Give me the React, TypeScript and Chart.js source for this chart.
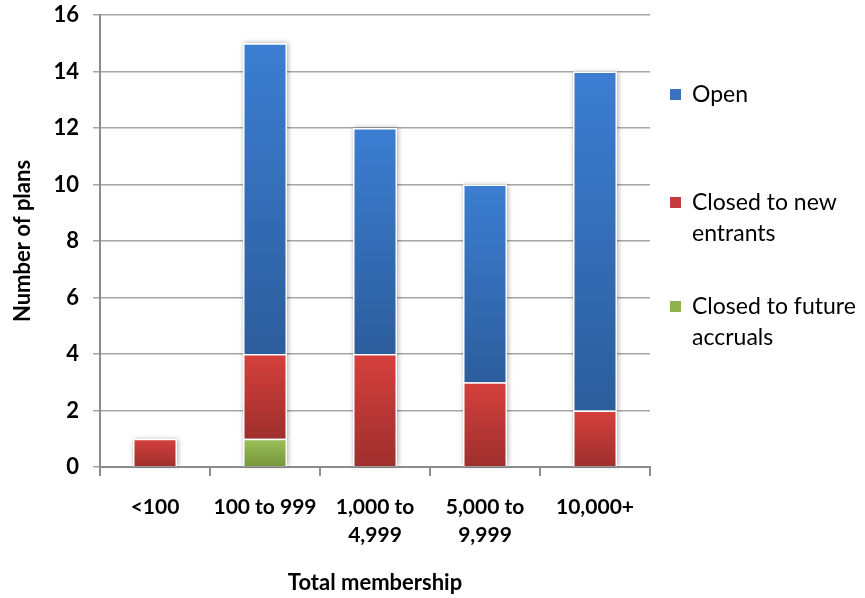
import React, { useEffect, useRef } from "react";
import { Chart, registerables } from "chart.js";

Chart.register(...registerables);

// ---- Data ----
const categories: string[][] = [
  ["<100"],
  ["100 to 999"],
  ["1,000 to", "4,999"],
  ["5,000 to", "9,999"],
  ["10,000+"],
];
const closedToFutureAccruals = [0, 1, 0, 0, 0];
const closedToNewEntrants = [1, 3, 4, 3, 2];
const openPlans = [0, 11, 8, 7, 12];
const yMin = 0;
const yMax = 16;
const yStep = 2;

const seriesNames = ["Closed to future accruals", "Closed to new entrants", "Open"];

const FONT = "Lato, 'Liberation Sans', sans-serif";

function gradientFill(top: string, bottom: string) {
  return (ctx: any) => {
    const chart = ctx.chart;
    const y = chart.scales && chart.scales.y;
    if (!chart.chartArea || !y || ctx.type !== "data") return top;
    const i = ctx.dataIndex;
    const d = ctx.datasetIndex;
    let start = 0;
    for (let k = 0; k < d; k++) start += Number(chart.data.datasets[k].data[i]) || 0;
    const v = Number(chart.data.datasets[d].data[i]) || 0;
    const y0 = y.getPixelForValue(start + v);
    const y1 = y.getPixelForValue(start);
    if (!isFinite(y0) || !isFinite(y1) || y1 - y0 < 1) return top;
    const g = chart.ctx.createLinearGradient(0, y0, 0, y1);
    g.addColorStop(0, top);
    g.addColorStop(1, bottom);
    return g;
  };
}

const shadowPlugin = {
  id: "barShadow",
  beforeDatasetsDraw(chart: any) {
    const ctx = chart.ctx;
    ctx.save();
    ctx.shadowColor = "rgba(0,0,0,0.35)";
    ctx.shadowBlur = 5;
    ctx.shadowOffsetX = 1;
    ctx.shadowOffsetY = 0;
    ctx.fillStyle = "#ffffff";
    chart.data.datasets.forEach((_: any, di: number) => {
      const meta = chart.getDatasetMeta(di);
      meta.data.forEach((el: any) => {
        const h = Math.abs(el.base - el.y);
        if (h < 1) return;
        const top = Math.min(el.y, el.base);
        ctx.fillRect(el.x - el.width / 2, top, el.width, h);
      });
    });
    ctx.restore();
  },
};

const legendItems = [
  { lines: ["Open"], color: "#3A72C0", dy: 80 },
  { lines: ["Closed to new", "entrants"], color: "#C33B3A", dy: 188 },
  { lines: ["Closed to future", "accruals"], color: "#8FB24C", dy: 292 },
];

const legendPlugin = {
  id: "sideLegend",
  afterDraw(chart: any) {
    const { ctx, chartArea } = chart;
    ctx.save();
    ctx.font = `23px ${FONT}`;
    ctx.textBaseline = "middle";
    ctx.textAlign = "left";
    ctx.fillStyle = "#000";
    legendItems.forEach((it) => {
      const y = chartArea.top + it.dy;
      ctx.fillStyle = it.color;
      ctx.fillRect(chartArea.right + 20, y - 6, 11, 11);
      ctx.fillStyle = "#000";
      it.lines.forEach((ln, li) => {
        ctx.fillText(ln, chartArea.right + 42, y + li * 31);
      });
    });
    ctx.restore();
  },
};

export default function App() {
  const ref = useRef<HTMLCanvasElement | null>(null);

  useEffect(() => {
    if (!ref.current) return;
    const chart = new Chart(ref.current, {
      type: "bar",
      data: {
        labels: categories as any,
        datasets: [
          {
            label: seriesNames[0],
            data: closedToFutureAccruals,
            backgroundColor: gradientFill("#9DC05A", "#76963A") as any,
            borderColor: "#ffffff",
            borderWidth: 1.5,
          },
          {
            label: seriesNames[1],
            data: closedToNewEntrants,
            backgroundColor: gradientFill("#D5403D", "#9E2F2D") as any,
            borderColor: "#ffffff",
            borderWidth: 1.5,
          },
          {
            label: seriesNames[2],
            data: openPlans,
            backgroundColor: gradientFill("#3C7ED2", "#2C5D9C") as any,
            borderColor: "#ffffff",
            borderWidth: 1.5,
          },
        ],
      },
      options: {
        animation: false,
        responsive: true,
        maintainAspectRatio: false,
        layout: { padding: { top: 15, right: 215, left: 0, bottom: 0 } },
        datasets: { bar: { barPercentage: 0.4, categoryPercentage: 1 } },
        plugins: { legend: { display: false }, tooltip: { enabled: false } },
        scales: {
          x: {
            stacked: true,
            grid: {
              drawOnChartArea: false,
              drawTicks: true,
              tickLength: 9,
              color: "#8c8c8c",
              lineWidth: 2,
              offset: true,
            },
            border: { color: "#8c8c8c", width: 2 },
            ticks: {
              color: "#000",
              font: { family: FONT, weight: "bold", size: 21, lineHeight: 1.3 },
              padding: 18,
              maxRotation: 0,
              autoSkip: false,
            },
            title: {
              display: true,
              text: "Total membership",
              color: "#000",
              font: { family: FONT, weight: "bold", size: 22 },
              padding: { top: 0, bottom: 2 },
            },
            afterFit: (s: any) => {
              s.height = 131;
              s.paddingLeft = 0;
              s.paddingRight = 0;
            },
          },
          y: {
            stacked: true,
            min: yMin,
            max: yMax,
            ticks: {
              stepSize: yStep,
              color: "#000",
              font: { family: FONT, weight: "bold", size: 22 },
              padding: 14,
            },
            grid: { color: "#a6a6a6", lineWidth: 1.5, tickLength: 7 },
            border: { color: "#8c8c8c", width: 2 },
            title: {
              display: true,
              text: "Number of plans",
              color: "#000",
              font: { family: FONT, weight: "bold", size: 22 },
              padding: { top: 10, bottom: 0 },
            },
            afterFit: (s: any) => {
              s.width = 100;
              s.paddingTop = 0;
              s.paddingBottom = 0;
            },
          },
        },
      } as any,
      plugins: [shadowPlugin, legendPlugin],
    });
    return () => chart.destroy();
  }, []);

  return (
    <div
      style={{
        position: "fixed",
        left: 0,
        top: 0,
        width: 865,
        height: 598,
        background: "#ffffff",
      }}
    >
      <canvas ref={ref} />
    </div>
  );
}
